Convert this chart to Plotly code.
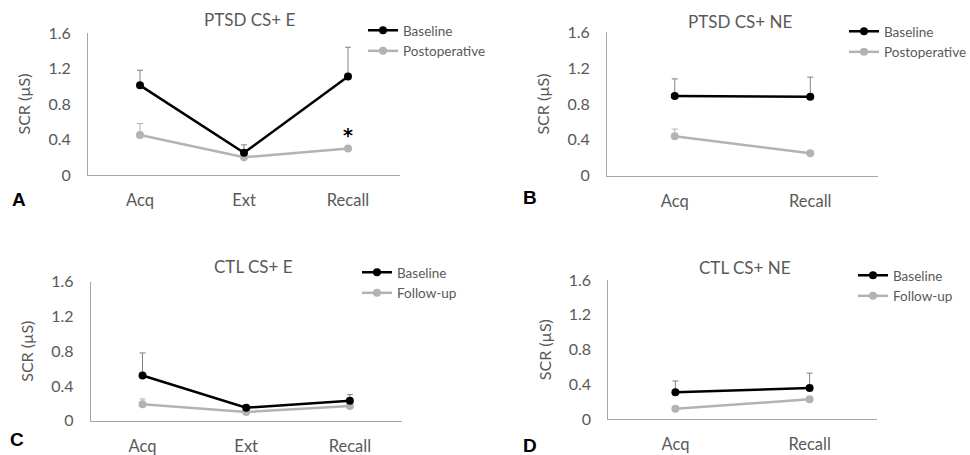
import plotly.graph_objects as go

# ---- data ----
cats3 = ["Acq", "Ext", "Recall"]
cats2 = ["Acq", "Recall"]

a_base = [1.01, 0.25, 1.11]
a_base_err = [0.17, 0.09, 0.33]
a_post = [0.45, 0.20, 0.30]
a_post_err = [0.13, 0.02, 0.01]

b_base = [0.89, 0.88]
b_base_err = [0.19, 0.22]
b_post = [0.44, 0.25]
b_post_err = [0.08, 0.03]

c_base = [0.52, 0.15, 0.23]
c_base_err = [0.26, 0.02, 0.07]
c_fu = [0.19, 0.10, 0.17]
c_fu_err = [0.06, 0.02, 0.02]

d_base = [0.31, 0.36]
d_base_err = [0.13, 0.17]
d_fu = [0.12, 0.23]
d_fu_err = [0.01, 0.01]

yticks = [0, 0.4, 0.8, 1.2, 1.6]
ytick_text = ["0", "0.4", "0.8", "1.2", "1.6"]

BLACK = "#000000"
GRAY = "#b3b3b3"
TXT = "#595959"
AX = "#a6a6a6"
FONT = "Lato"

fig = go.Figure()

panels = [
    ("x", "y", "legend", cats3, a_base, a_base_err, a_post, a_post_err, "Postoperative"),
    ("x2", "y2", "legend2", cats2, b_base, b_base_err, b_post, b_post_err, "Postoperative"),
    ("x3", "y3", "legend3", cats3, c_base, c_base_err, c_fu, c_fu_err, "Follow-up"),
    ("x4", "y4", "legend4", cats2, d_base, d_base_err, d_fu, d_fu_err, "Follow-up"),
]

for xa, ya, lg, cats, base, berr, oth, oerr, oname in panels:
    fig.add_trace(go.Scatter(
        x=cats, y=oth, name=oname, xaxis=xa, yaxis=ya, legend=lg,
        mode="lines+markers", line=dict(color=GRAY, width=2.5),
        marker=dict(color=GRAY, size=8),
        error_y=dict(type="data", array=oerr, arrayminus=[0] * len(oerr),
                     symmetric=False, color=GRAY, thickness=1, width=3),
        legendrank=2,
    ))
    fig.add_trace(go.Scatter(
        x=cats, y=base, name="Baseline", xaxis=xa, yaxis=ya, legend=lg,
        mode="lines+markers", line=dict(color=BLACK, width=2.5),
        marker=dict(color=BLACK, size=8),
        error_y=dict(type="data", array=berr, arrayminus=[0] * len(berr),
                     symmetric=False, color="#808080", thickness=1, width=3),
        legendrank=1,
    ))

H = 455.0
W = 970.0

def xd(a, b):
    return [a / W, b / W]

def yd(top, bottom):
    return [1 - bottom / H, 1 - top / H]

domains = {
    "": (xd(88, 400), yd(33, 175), 2.5),
    "2": (xd(607, 878), yd(32.3, 175.7), 1.5),
    "3": (xd(90.7, 401.7), yd(281.7, 420.7), 2.5),
    "4": (xd(608.3, 876.7), yd(280, 419.3), 1.5),
}

layout = dict(
    width=970, height=455,
    margin=dict(l=0, r=0, t=0, b=0, autoexpand=False),
    paper_bgcolor="white", plot_bgcolor="white",
    font=dict(family=FONT, color=TXT),
)

for suf, (xdom, ydom, xmax) in domains.items():
    layout["xaxis" + suf] = dict(
        domain=xdom, anchor="y" + suf, type="category",
        range=[-0.5, xmax], showgrid=False, zeroline=False,
        showline=True, linecolor=AX, linewidth=1,
        ticks="outside", ticklen=10, tickcolor="rgba(0,0,0,0)",
        tickfont=dict(size=16.5, color=TXT, family=FONT),
        automargin=False, fixedrange=True,
    )
    layout["yaxis" + suf] = dict(
        domain=ydom, anchor="x" + suf, range=[0, 1.6],
        tickvals=yticks, ticktext=ytick_text,
        showgrid=False, zeroline=False,
        showline=True, linecolor=AX, linewidth=1,
        ticks="outside", ticklen=13, tickcolor="rgba(0,0,0,0)",
        tickfont=dict(size=16, color=TXT, family=FONT),
        title=dict(text="SCR (µS)", font=dict(size=16, color=TXT, family=FONT), standoff=13),
        automargin=False, fixedrange=True,
    )

legend_pos = {
    "legend": (363, 15),
    "legend2": (844, 16),
    "legend3": (357, 257),
    "legend4": (853, 260),
}
for lg, (lx, ly) in legend_pos.items():
    layout[lg] = dict(
        x=lx / W, y=1 - ly / H, xanchor="left", yanchor="top",
        font=dict(size=13.5, color=TXT, family=FONT),
        bgcolor="rgba(0,0,0,0)", itemwidth=30, tracegroupgap=0,
    )

fig.update_layout(**layout)

annots = [
    dict(text="PTSD CS+ E", x=250 / W, y=1 - 20 / H),
    dict(text="PTSD CS+ NE", x=740 / W, y=1 - 21 / H),
    dict(text="CTL CS+ E", x=253 / W, y=1 - 266 / H),
    dict(text="CTL CS+ NE", x=745 / W, y=1 - 267 / H),
]
for a in annots:
    fig.add_annotation(xref="paper", yref="paper", showarrow=False,
                       xanchor="center", yanchor="middle",
                       font=dict(size=17, color=TXT, family=FONT), **a)

letters = [("A", 19, 199), ("B", 530, 197), ("C", 17, 439), ("D", 530, 445)]
for t, lx, ly in letters:
    fig.add_annotation(xref="paper", yref="paper", showarrow=False,
                       x=lx / W, y=1 - ly / H, xanchor="center", yanchor="middle",
                       text="<b>" + t + "</b>",
                       font=dict(size=19, color="#000000", family="Liberation Sans"))

fig.add_annotation(xref="x", yref="y", x="Recall", y=0.45, text="<b>*</b>",
                   showarrow=False, yanchor="middle",
                   font=dict(size=19, color="#000000", family="DejaVu Sans"))

fig.write_html("out.html", config={"displayModeBar": False},
               post_script="document.body.style.margin='0';document.body.style.overflow='hidden';")
